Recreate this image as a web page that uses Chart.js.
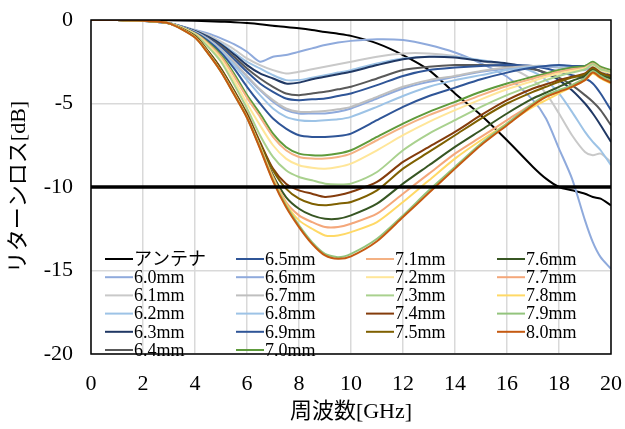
<!DOCTYPE html>
<html lang="ja">
<head>
  <meta charset="utf-8">
  <title>リターンロス</title>
  <script src="https://cdn.jsdelivr.net/npm/chart.js"></script>
  <style>
    html, body { margin: 0; padding: 0; background: #fff; }
    #wrap { width: 625px; height: 429px; }
  </style>
</head>
<body>
<div id="wrap"><canvas id="rlChart"></canvas></div>

<script>
  // 周波数 [GHz]
  const freqs = [0, 1, 2, 3, 4, 4.5, 5, 5.5, 6, 6.5, 7, 7.5, 8, 8.5, 9, 9.5, 10, 11, 12, 13, 14, 15, 16, 17, 17.5, 18, 18.5, 19, 19.3, 19.6, 20];

  const seriesNames = ['アンテナ', '6.0mm', '6.1mm', '6.2mm', '6.3mm', '6.4mm', '6.5mm', '6.6mm', '6.7mm', '6.8mm', '6.9mm',
    '7.0mm', '7.1mm', '7.2mm', '7.3mm', '7.4mm', '7.5mm', '7.6mm', '7.7mm', '7.8mm', '7.9mm', '8.0mm'];

  const seriesColors = ['#000000', '#8faadc', '#c9c9c9', '#9dc3e6', '#203864', '#595959', '#2f5597', '#8faadc', '#bfbfbf', '#9dc3e6', '#2f5597',
    '#5e9b3c', '#f4b183', '#ffe699', '#a9d18e', '#843c0c', '#7f6000', '#375623', '#f4a77a', '#ffd966', '#93c47d', '#c55a11'];

  // リターンロス [dB]
  const antenna = [0, 0, 0, -0.02, -0.05, -0.07, -0.1, -0.13, -0.18, -0.25, -0.35, -0.42, -0.5, -0.6, -0.72, -0.82, -0.95, -1.4, -2.1, -3.0, -4.4, -5.7, -7.2, -8.8, -9.5, -10.0, -10.2, -10.4, -10.6, -10.7, -11.1];
  const mm60 = [0, 0, -0.05, -0.2, -0.6, -0.8, -1.1, -1.45, -1.9, -2.5, -2.2, -2.1, -1.9, -1.7, -1.5, -1.35, -1.25, -1.15, -1.2, -1.5, -1.95, -2.6, -3.4, -4.8, -5.9, -7.7, -9.5, -12.0, -13.3, -14.2, -14.9];
  const mm61 = [0, 0, -0.05, -0.2, -0.62, -0.9, -1.3, -1.75, -2.3, -2.7, -3.0, -3.2, -3.1, -2.95, -2.8, -2.65, -2.5, -2.2, -2.0, -2.0, -2.15, -2.45, -2.8, -3.6, -4.4, -5.6, -6.9, -7.9, -8.1, -8.0, -8.5];
  const mm62 = [0, 0, -0.05, -0.2, -0.64, -0.98, -1.4, -1.95, -2.5, -2.9, -3.3, -3.6, -3.6, -3.45, -3.3, -3.15, -3.0, -2.6, -2.3, -2.2, -2.2, -2.4, -2.65, -3.1, -3.6, -4.4, -5.5, -6.7, -7.3, -7.8, -8.7];
  const mm63 = [0, 0, -0.05, -0.2, -0.66, -1.0, -1.45, -2.05, -2.7, -3.2, -3.5, -3.8, -3.75, -3.55, -3.4, -3.25, -3.1, -2.7, -2.35, -2.2, -2.25, -2.45, -2.6, -2.9, -3.2, -3.6, -4.2, -5.0, -5.6, -6.3, -7.3];
  const mm64 = [0, 0, -0.05, -0.2, -0.68, -1.05, -1.55, -2.2, -2.9, -3.5, -4.0, -4.4, -4.5, -4.4, -4.3, -4.15, -4.0, -3.5, -3.0, -2.8, -2.7, -2.7, -2.75, -2.95, -3.15, -3.45, -3.9, -4.5, -4.9, -5.4, -6.3];
  const mm65 = [0, 0, -0.05, -0.2, -0.7, -1.1, -1.65, -2.35, -3.1, -3.8, -4.3, -4.7, -4.8, -4.75, -4.7, -4.55, -4.4, -3.9, -3.35, -3.0, -2.85, -2.75, -2.7, -2.75, -2.9, -3.1, -3.3, -3.5, -3.8, -4.4, -5.4];
  const mm66 = [0, 0, -0.05, -0.2, -0.72, -1.15, -1.75, -2.55, -3.4, -4.2, -4.9, -5.4, -5.6, -5.6, -5.6, -5.5, -5.3, -4.7, -4.1, -3.7, -3.4, -3.1, -2.9, -2.8, -2.8, -2.85, -2.95, -3.0, -2.8, -3.2, -3.8];
  const mm67 = [0, 0, -0.05, -0.2, -0.72, -1.15, -1.75, -2.5, -3.35, -4.15, -4.8, -5.3, -5.5, -5.5, -5.45, -5.35, -5.2, -4.6, -4.0, -3.6, -3.35, -3.05, -2.85, -2.75, -2.75, -2.8, -2.85, -2.9, -2.75, -3.1, -3.6];
  const mm68 = [0, 0, -0.05, -0.2, -0.74, -1.2, -1.85, -2.7, -3.6, -4.5, -5.3, -5.8, -6.0, -6.05, -6.0, -5.95, -5.8, -5.2, -4.55, -4.0, -3.6, -3.3, -3.0, -2.8, -2.75, -2.75, -2.8, -2.85, -2.7, -3.0, -3.5];
  const mm69 = [0, 0, -0.05, -0.2, -0.76, -1.25, -1.95, -2.9, -4.0, -5.0, -5.9, -6.5, -6.9, -7.0, -7.0, -6.95, -6.8, -6.0, -5.2, -4.55, -4.05, -3.55, -3.15, -2.85, -2.75, -2.7, -2.75, -2.75, -2.6, -2.9, -3.3];
  const mm70 = [0, 0, -0.05, -0.2, -0.8, -1.35, -2.1, -3.2, -4.5, -5.6, -6.8, -7.6, -8.0, -8.1, -8.1, -8.0, -7.8, -7.0, -6.2, -5.5, -4.9, -4.3, -3.8, -3.4, -3.2, -3.0, -2.85, -2.75, -2.5, -2.8, -3.0];
  const mm71 = [0, 0, -0.05, -0.2, -0.82, -1.4, -2.2, -3.35, -4.65, -5.8, -7.0, -7.8, -8.2, -8.3, -8.3, -8.2, -8.0, -7.2, -6.4, -5.7, -5.1, -4.5, -3.95, -3.5, -3.3, -3.1, -2.95, -2.85, -2.6, -2.9, -3.1];
  const mm72 = [0, 0, -0.05, -0.2, -0.85, -1.5, -2.35, -3.6, -5.0, -6.3, -7.5, -8.3, -8.7, -8.85, -8.9, -8.8, -8.6, -7.8, -6.9, -6.1, -5.4, -4.75, -4.15, -3.65, -3.4, -3.2, -3.05, -2.9, -2.7, -3.0, -3.2];
  const mm73 = [0, 0, -0.05, -0.2, -0.88, -1.6, -2.5, -3.85, -5.3, -6.9, -8.2, -9.0, -9.4, -9.6, -9.8, -9.85, -9.8, -9.1, -7.8, -6.8, -6.0, -5.2, -4.5, -3.9, -3.6, -3.35, -3.15, -2.95, -2.65, -2.95, -3.1];
  const mm74 = [0, 0, -0.05, -0.2, -0.95, -1.85, -2.9, -4.2, -5.6, -7.3, -8.9, -9.8, -10.2, -10.4, -10.6, -10.5, -10.3, -9.7, -8.5, -7.6, -6.7, -5.7, -4.8, -4.1, -3.85, -3.6, -3.4, -3.2, -2.85, -3.15, -3.35];
  const mm75 = [0, 0, -0.05, -0.2, -0.97, -1.88, -2.95, -4.25, -5.7, -7.4, -9.0, -10.1, -10.7, -11.0, -11.1, -11.0, -10.9, -10.2, -8.9, -7.9, -6.9, -5.9, -5.0, -4.3, -4.0, -3.7, -3.45, -3.25, -2.9, -3.2, -3.4];
  const mm76 = [0, 0, -0.05, -0.2, -1.0, -1.9, -3.0, -4.3, -5.75, -7.5, -9.3, -10.6, -11.3, -11.7, -11.9, -11.9, -11.7, -11.0, -9.8, -8.7, -7.6, -6.6, -5.6, -4.7, -4.35, -4.0, -3.65, -3.35, -3.0, -3.3, -3.5];
  const mm77 = [0, 0, -0.05, -0.2, -1.02, -1.95, -3.05, -4.35, -5.8, -7.55, -9.4, -10.9, -11.7, -12.1, -12.4, -12.4, -12.2, -11.6, -10.4, -9.2, -8.0, -7.0, -6.0, -5.0, -4.6, -4.3, -3.9, -3.5, -3.1, -3.4, -3.7];
  const mm78 = [0, 0, -0.05, -0.2, -1.03, -1.97, -3.08, -4.4, -5.82, -7.58, -9.5, -11.0, -12.0, -12.5, -12.9, -12.9, -12.7, -12.1, -10.9, -9.6, -8.3, -7.2, -6.2, -5.2, -4.8, -4.4, -4.0, -3.6, -3.2, -3.5, -3.8];
  const mm79 = [0, 0, -0.05, -0.2, -1.05, -2.0, -3.1, -4.45, -5.85, -7.65, -9.6, -11.1, -12.3, -13.3, -14.0, -14.2, -14.0, -13.1, -11.7, -10.2, -8.8, -7.4, -6.2, -5.0, -4.5, -4.2, -3.9, -3.5, -3.05, -3.35, -3.65];
  const mm80 = [0, 0, -0.05, -0.2, -1.05, -2.0, -3.1, -4.45, -5.85, -7.7, -9.65, -11.2, -12.4, -13.4, -14.1, -14.3, -14.15, -13.25, -11.8, -10.35, -8.9, -7.5, -6.3, -5.1, -4.6, -4.3, -4.0, -3.6, -3.15, -3.45, -3.75];

  const seriesValues = [antenna, mm60, mm61, mm62, mm63, mm64, mm65, mm66, mm67, mm68, mm69,
    mm70, mm71, mm72, mm73, mm74, mm75, mm76, mm77, mm78, mm79, mm80];

  // -10 dB 基準線
  const limitX = [0, 20];
  const limitY = [-10, -10];

  const serif = '"Liberation Serif", "Noto Sans CJK JP", serif';

  const datasets = seriesValues.map((vals, i) => ({
    label: seriesNames[i],
    data: freqs.map((f, k) => ({ x: f, y: vals[k] })),
    borderColor: seriesColors[i],
    backgroundColor: seriesColors[i],
    borderWidth: 2,
    pointRadius: 0,
    tension: 0.25,
    order: -i
  }));
  datasets.push({
    label: 'limit',
    data: limitX.map((x, k) => ({ x: x, y: limitY[k] })),
    borderColor: '#000',
    borderWidth: 3.5,
    pointRadius: 0,
    order: -100
  });

  // 凡例: 6行,6行,5行,5行の4列
  const columnLegend = {
    id: 'columnLegend',
    afterDraw(chart) {
      const ctx = chart.ctx;
      const area = chart.chartArea;
      const colX = [14, 145, 275, 406];
      ctx.save();
      ctx.font = '18px ' + serif;
      ctx.textBaseline = 'middle';
      ctx.fillStyle = '#000';
      seriesNames.forEach((name, i) => {
        const col = i < 12 ? Math.floor(i / 6) : 2 + Math.floor((i - 12) / 5);
        const row = i < 12 ? i % 6 : (i - 12) % 5;
        const x = area.left + colX[col];
        const y = area.top + 239 + row * 18.2;
        ctx.strokeStyle = seriesColors[i];
        ctx.lineWidth = 2;
        ctx.beginPath();
        ctx.moveTo(x, y);
        ctx.lineTo(x + 28, y);
        ctx.stroke();
        ctx.fillText(name, x + 29, y + 1);
      });
      // 枠線
      ctx.strokeStyle = '#000';
      ctx.lineWidth = 1.5;
      ctx.strokeRect(area.left, area.top, area.right - area.left, area.bottom - area.top);
      ctx.restore();
    }
  };

  new Chart(document.getElementById('rlChart'), {
    type: 'line',
    data: { datasets: datasets },
    options: {
      responsive: true,
      maintainAspectRatio: false,
      animation: false,
      layout: { padding: { top: 20, right: 14, left: 0, bottom: 0 } },
      plugins: {
        legend: { display: false },
        tooltip: { enabled: false }
      },
      scales: {
        x: {
          type: 'linear',
          min: 0,
          max: 20,
          afterFit: s => { s.height = 75; s.paddingLeft = 0; s.paddingRight = 0; },
          ticks: { stepSize: 2, color: '#000', padding: 17, font: { family: serif, size: 22 } },
          grid: { color: '#d9d9d9', lineWidth: 1.5, drawTicks: false },
          border: { display: false },
          title: { display: true, text: '周波数[GHz]', color: '#000', padding: { top: 0, bottom: 4 }, font: { family: serif, size: 22 } }
        },
        y: {
          min: -20,
          max: 0,
          afterFit: s => { s.width = 91; s.paddingTop = 0; s.paddingBottom = 0; },
          ticks: { stepSize: 5, color: '#000', padding: 18, font: { family: serif, size: 22 } },
          grid: { color: '#d9d9d9', lineWidth: 1.5, drawTicks: false },
          border: { display: false },
          title: { display: true, text: 'リターンロス[dB]', color: '#000', padding: { top: 6, bottom: 0 }, font: { family: serif, size: 22 } }
        }
      }
    },
    plugins: [columnLegend]
  });
</script>
</body>
</html>
